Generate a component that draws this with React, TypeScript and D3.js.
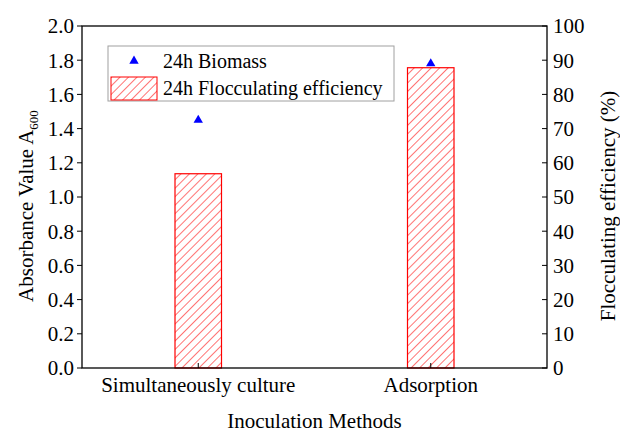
import * as d3 from "d3";

const categories = ["Simultaneously culture", "Adsorption"];
const biomass = [1.45, 1.78];
const flocEfficiency = [56.8, 87.8];
const leftTicks = [0, 0.2, 0.4, 0.6, 0.8, 1.0, 1.2, 1.4, 1.6, 1.8, 2.0];
const rightTicks = [0, 10, 20, 30, 40, 50, 60, 70, 80, 90, 100];

const W = 620;
const H = 432;
const m = { top: 26, right: 73, bottom: 64, left: 82 };
const iW = W - m.left - m.right;
const iH = H - m.top - m.bottom;
const FONT = "Liberation Serif, Times New Roman, serif";

export default function App() {
  const x = d3.scaleLinear().domain([0.5, 2.5]).range([0, iW]);
  const yL = d3.scaleLinear().domain([0, 2]).range([iH, 0]);
  const yR = d3.scaleLinear().domain([0, 100]).range([iH, 0]);
  const barW = x(1.2) - x(1);
  const tri = d3.symbol().type(d3.symbolTriangle).size(38)();

  return (
    <svg
      width={W}
      height={H}
      style={{ position: "absolute", left: 0, top: 0, background: "#fff", fontFamily: FONT }}
    >
      <defs>
        <pattern id="hatch" patternUnits="userSpaceOnUse" width="6" height="6" patternTransform="rotate(45)">
          <line x1="0" y1="0" x2="0" y2="6" stroke="#ff0000" strokeWidth="1.1" />
        </pattern>
      </defs>
      <g transform={`translate(${m.left},${m.top})`}>
        {/* bars */}
        {flocEfficiency.map((v, i) => (
          <rect
            key={"b" + i}
            x={x(i + 1) - barW / 2}
            y={yR(v)}
            width={barW}
            height={iH - yR(v)}
            fill="url(#hatch)"
            stroke="#ff0000"
            strokeWidth={1.2}
          />
        ))}
        {/* biomass markers */}
        {biomass.map((v, i) => (
          <path key={"m" + i} d={tri!} transform={`translate(${x(i + 1)},${yL(v)})`} fill="#0000ff" />
        ))}

        {/* frame */}
        <rect x={0} y={0} width={iW} height={iH} fill="none" stroke="#000" strokeWidth={1.3} />

        {/* left axis */}
        {leftTicks.map((t) => (
          <g key={"l" + t} transform={`translate(0,${yL(t)})`}>
            <line x1={-5} x2={0} stroke="#000" />
            <text x={-8} dy="0.35em" textAnchor="end" fontSize={21}>
              {t.toFixed(1)}
            </text>
          </g>
        ))}
        {/* right axis */}
        {rightTicks.map((t) => (
          <g key={"r" + t} transform={`translate(${iW},${yR(t)})`}>
            <line x1={-5} x2={0} stroke="#000" />
            <text x={6} dy="0.35em" textAnchor="start" fontSize={21}>
              {t}
            </text>
          </g>
        ))}
        {/* bottom axis */}
        {categories.map((c, i) => (
          <g key={"c" + i} transform={`translate(${x(i + 1)},${iH})`}>
            <line y1={0} y2={-5} stroke="#000" />
            <text y={24} textAnchor="middle" fontSize={21}>
              {c}
            </text>
          </g>
        ))}

        {/* axis titles */}
        <text
          transform={`translate(${-49},${iH / 2 + 9}) rotate(-90)`}
          textAnchor="middle"
          fontSize={21}
        >
          Absorbance Value A
          <tspan fontSize={13} dy={5}>600</tspan>
        </text>
        <text
          transform={`translate(${iW + 68},${iH / 2 + 9}) rotate(-90)`}
          textAnchor="middle"
          fontSize={21}
        >
          Flocculating efficiency (%)
        </text>
        <text x={iW / 2} y={iH + 60} textAnchor="middle" fontSize={21}>
          Inoculation Methods
        </text>

        {/* legend */}
        <g transform={`translate(${108 - m.left},${46 - m.top})`}>
          <rect x={0} y={0} width={286} height={55} fill="#fff" stroke="#a0a0a0" strokeWidth={1} />
          <path d={tri!} transform="translate(26,15)" fill="#0000ff" />
          <text x={55} y={22} fontSize={20}>24h Biomass</text>
          <rect x={3} y={31} width={46} height={23} fill="url(#hatch)" stroke="#ff0000" strokeWidth={1} />
          <text x={55} y={49} fontSize={20}>24h Flocculating efficiency</text>
        </g>
      </g>
    </svg>
  );
}
